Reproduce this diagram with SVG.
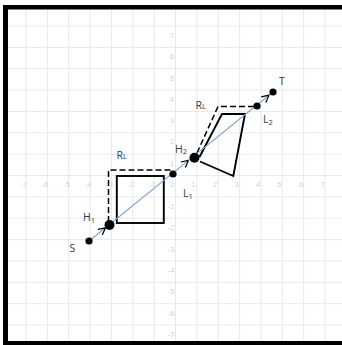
<svg xmlns="http://www.w3.org/2000/svg" width="342" height="345" viewBox="0 0 342 345">
<defs>
<style>
.grid line{stroke:#e8e8e8;stroke-width:1}
.ax text{font-family:"Liberation Sans",Arial,sans-serif;font-size:7.5px;fill:#d2d2d2;text-anchor:middle}
.lbl{font-family:"Open Sans","Liberation Sans",sans-serif;font-size:10.5px;fill:#2e3a52}
.sub{font-size:7.5px}
.dot{fill:#000}
.shape{fill:none;stroke:#000;stroke-width:1.9;stroke-linejoin:miter}
.dash{fill:none;stroke:#000;stroke-width:1.5;stroke-dasharray:6 3}
.ray{fill:none;stroke:#7fa6d6;stroke-width:1.2}
</style>
<marker id="chev" markerUnits="userSpaceOnUse" viewBox="-9 -5 10 10" refX="0" refY="0" markerWidth="10" markerHeight="10" orient="auto">
<path d="M-7,-3.6 L0,0 L-7,3.6" fill="none" stroke="#000" stroke-width="1.2"/>
</marker>
</defs>
<rect width="342" height="345" fill="#fff"/>
<g class="grid">
<line x1="26" y1="9" x2="26" y2="341"/><line x1="47.4" y1="9" x2="47.4" y2="341"/><line x1="68.7" y1="9" x2="68.7" y2="341"/><line x1="90.1" y1="9" x2="90.1" y2="341"/><line x1="111.4" y1="9" x2="111.4" y2="341"/><line x1="132.8" y1="9" x2="132.8" y2="341"/><line x1="154.2" y1="9" x2="154.2" y2="341"/><line x1="175.5" y1="9" x2="175.5" y2="341"/><line x1="196.9" y1="9" x2="196.9" y2="341"/><line x1="218.2" y1="9" x2="218.2" y2="341"/><line x1="239.6" y1="9" x2="239.6" y2="341"/><line x1="261" y1="9" x2="261" y2="341"/><line x1="282.3" y1="9" x2="282.3" y2="341"/><line x1="303.7" y1="9" x2="303.7" y2="341"/><line x1="325" y1="9" x2="325" y2="341"/>
<line x1="8" y1="26" x2="342" y2="26"/><line x1="8" y1="47.4" x2="342" y2="47.4"/><line x1="8" y1="68.7" x2="342" y2="68.7"/><line x1="8" y1="90.1" x2="342" y2="90.1"/><line x1="8" y1="111.4" x2="342" y2="111.4"/><line x1="8" y1="132.8" x2="342" y2="132.8"/><line x1="8" y1="154.2" x2="342" y2="154.2"/><line x1="8" y1="175.5" x2="342" y2="175.5"/><line x1="8" y1="196.9" x2="342" y2="196.9"/><line x1="8" y1="218.2" x2="342" y2="218.2"/><line x1="8" y1="239.6" x2="342" y2="239.6"/><line x1="8" y1="261" x2="342" y2="261"/><line x1="8" y1="282.3" x2="342" y2="282.3"/><line x1="8" y1="303.7" x2="342" y2="303.7"/><line x1="8" y1="325" x2="342" y2="325"/>
</g>
<g class="ax">
<text x="23.5" y="187">-7</text><text x="45" y="187">-6</text><text x="66.5" y="187">-5</text><text x="88" y="187">-4</text><text x="109.5" y="187">-3</text><text x="131" y="187">-2</text><text x="152.5" y="187">-1</text><text x="172" y="187">0</text><text x="193.5" y="187">1</text><text x="215" y="187">2</text><text x="236.5" y="187">3</text><text x="258" y="187">4</text><text x="279.5" y="187">5</text><text x="301" y="187">6</text><text x="322.5" y="187">7</text>
<text x="172" y="38">7</text><text x="172" y="59.4">6</text><text x="172" y="80.7">5</text><text x="172" y="102.1">4</text><text x="172" y="123.4">3</text><text x="172" y="143.8">2</text><text x="172" y="166.2">1</text>
<text x="171" y="208.9">-1</text><text x="171" y="230.2">-2</text><text x="171" y="251.6">-3</text><text x="171" y="273">-4</text><text x="171" y="294.3">-5</text><text x="171" y="315.7">-6</text><text x="171" y="337">-7</text>
</g>
<g id="border" fill="#000">
<rect x="3" y="5" width="339" height="4.5"/>
<rect x="3" y="5" width="5" height="340"/>
<rect x="3" y="341" width="339" height="4"/>
</g>
<g id="obstacle1"><rect class="shape" x="116.8" y="176" width="47" height="47"/></g>
<g id="obstacle2"><path class="shape" d="M199.5,157 L222,114 L245,114 L233.3,176 L200,161.5"/></g>
<g id="connectors">
<path class="dash" d="M108.5,222 V170 H172"/>
<path class="dash" d="M197,153 L218,106.5 H255"/>
<path class="ray" d="M89,241 L105.5,227.8" marker-end="url(#chev)"/>
<path class="ray" d="M105.5,227.8 L188.5,160.4" marker-end="url(#chev)"/>
<path class="ray" d="M188.5,160.4 L269,95.2" marker-end="url(#chev)"/>
<path class="ray" d="M269,95.2 L273,92"/>
</g>
<g id="S"><circle class="dot" cx="89" cy="241" r="3.6"/><text class="lbl" x="69.5" y="252">S</text></g>
<g id="H1"><circle class="dot" cx="109.5" cy="225" r="5"/><text class="lbl" x="83" y="221">H<tspan class="sub" dy="1.5">1</tspan></text></g>
<g id="RL1"><text class="lbl" x="116.5" y="159">R<tspan class="sub">L</tspan></text></g>
<g id="L1"><circle class="dot" cx="173" cy="174" r="3.6"/><text class="lbl" x="183" y="197">L<tspan class="sub" dy="1.5">1</tspan></text></g>
<g id="H2"><circle class="dot" cx="194.5" cy="157.7" r="5"/><text class="lbl" x="175" y="152.5">H<tspan class="sub" dy="1.5">2</tspan></text></g>
<g id="RL2"><text class="lbl" x="195.5" y="109">R<tspan class="sub">L</tspan></text></g>
<g id="L2"><circle class="dot" cx="257" cy="106" r="3.6"/><text class="lbl" x="263" y="123">L<tspan class="sub" dy="1.5">2</tspan></text></g>
<g id="T"><circle class="dot" cx="273" cy="92" r="3.6"/><text class="lbl" x="279" y="85">T</text></g>
</svg>
